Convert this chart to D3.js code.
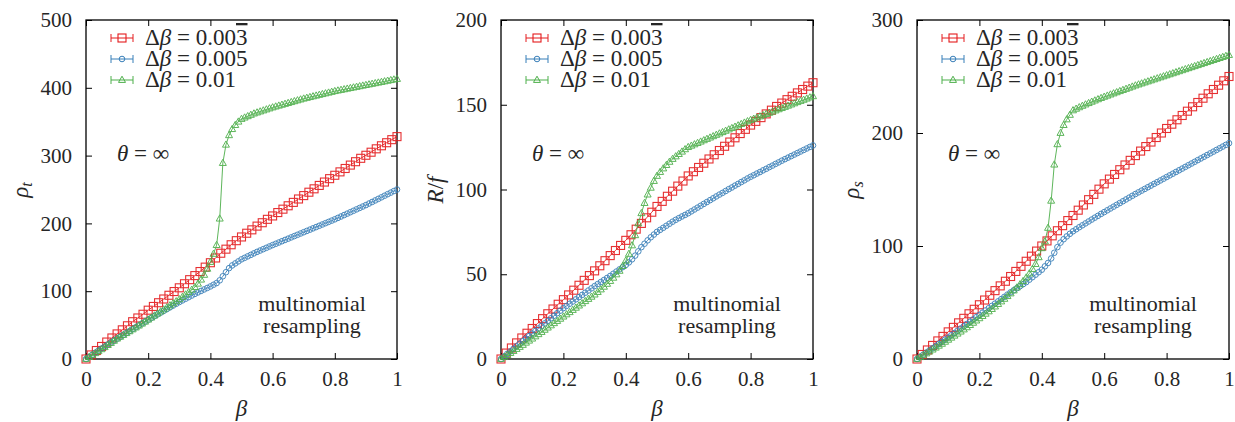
<!DOCTYPE html>
<html><head><meta charset="utf-8">
<script src="https://cdn.jsdelivr.net/npm/d3@7"></script>
<style>
svg text, svg tspan { font-family: "Liberation Serif" !important; }
</style>
</head>
<body style="margin:0">
<svg id="chart" width="1235" height="422" font-family="Liberation Serif"></svg>
<script>
// ---------- data ----------
const seriesNames = ["Δβ = 0.003", "Δβ = 0.005", "Δβ = 0.01"];
const xTicks = [0, 0.2, 0.4, 0.6, 0.8, 1];
const xTickLabels = ["0", "0.2", "0.4", "0.6", "0.8", "1"];
const yTicksRho_t = [0, 100, 200, 300, 400, 500];
const yTicksRf = [0, 50, 100, 150, 200];
const yTicksRho_s = [0, 100, 200, 300];

// beta grid for red squares (every 1/60)
const betaRed = [0,0.0167,0.0333,0.05,0.0667,0.0833,0.1,0.1167,0.1333,0.15,0.1667,0.1833,0.2,0.2167,0.2333,0.25,0.2667,0.2833,0.3,0.3167,0.3333,0.35,0.3667,0.3833,0.4,0.4167,0.4333,0.45,0.4667,0.4833,0.5,0.5167,0.5333,0.55,0.5667,0.5833,0.6,0.6167,0.6333,0.65,0.6667,0.6833,0.7,0.7167,0.7333,0.75,0.7667,0.7833,0.8,0.8167,0.8333,0.85,0.8667,0.8833,0.9,0.9167,0.9333,0.95,0.9667,0.9833,1];
// beta grid for blue / green markers (every 0.01)
const betaFine = [0,0.01,0.02,0.03,0.04,0.05,0.06,0.07,0.08,0.09,0.1,0.11,0.12,0.13,0.14,0.15,0.16,0.17,0.18,0.19,0.2,0.21,0.22,0.23,0.24,0.25,0.26,0.27,0.28,0.29,0.3,0.31,0.32,0.33,0.34,0.35,0.36,0.37,0.38,0.39,0.4,0.41,0.42,0.43,0.44,0.45,0.46,0.47,0.48,0.49,0.5,0.51,0.52,0.53,0.54,0.55,0.56,0.57,0.58,0.59,0.6,0.61,0.62,0.63,0.64,0.65,0.66,0.67,0.68,0.69,0.7,0.71,0.72,0.73,0.74,0.75,0.76,0.77,0.78,0.79,0.8,0.81,0.82,0.83,0.84,0.85,0.86,0.87,0.88,0.89,0.9,0.91,0.92,0.93,0.94,0.95,0.96,0.97,0.98,0.99,1];

// panel 1: rho_t
const rhoT_red = [0,6,12.5,18.5,25,31,37,43,49,55,60.5,66,72,77.5,83,88.5,94,99.5,105,111,117,123,129,135.5,142,149,156,162,168.5,174.5,180,185.5,190.5,196,201,206,211,216,221,226,231,236,241,246,251,256,261,266,271,276,281,286,291,296,300.5,305,310,314.5,319,323.5,328];
const rhoT_blue = [0,3,6.2,9.3,12.4,15.5,18.4,21.3,24.2,27.1,30,32.8,35.6,38.4,41.2,44,46.8,49.6,52.4,55.2,58,60.6,63.2,65.8,68.4,71,73.6,76.2,78.8,81.4,84,86.4,88.8,91.2,93.6,96,98.2,100.4,102.6,104.8,107,109.5,112,116,122,128,134,138,141,144,147,149.2,151.4,153.6,155.8,158,160,162,164,166,168,169.9,171.8,173.7,175.6,177.5,179.4,181.3,183.2,185.1,187,188.9,190.8,192.7,194.6,196.5,198.4,200.3,202.2,204.1,206,208.1,210.2,212.3,214.4,216.5,218.6,220.7,222.8,224.9,227,229.3,231.6,233.9,236.2,238.5,240.8,243.1,245.4,247.7,250];
const rhoT_green = [0,2.8,5.6,8.5,11.4,14.3,17.4,20.5,23.6,26.8,30,32.7,35.4,38.1,40.8,43.6,46.4,49.2,52.1,55,58,61,64,67,70,73,76,79,82,85,88,91.5,95,98.5,102,106,111,117,124,133,143,155,168,207,289,316,330,339,345,350,354,356,358,360,362,363.5,365,366.5,368,369.5,371,372.3,373.6,374.9,376.2,377.5,378.8,380.1,381.4,382.7,384,385.1,386.2,387.3,388.4,389.5,390.6,391.7,392.8,393.9,395,395.9,396.8,397.7,398.6,399.5,400.4,401.3,402.2,403.1,404,404.9,405.8,406.7,407.6,408.5,409.4,410.3,411.2,412.1,413];

// panel 2: R/f
const rf_red = [0,3.5,6.5,9.5,12.4,15.2,18,20.9,23.8,26.7,29.5,32.3,35,37.8,40.6,43.5,46.4,49.2,52,55,58,61,64,67,70,73.3,76.6,80,83.3,86.6,90,93,96,99,102,105,108,110.5,113,115.5,118,120.5,123,125.5,128,130.5,133,135.5,138,140.2,142.4,144.6,146.8,149,151,153,155,157,159,161,163];
const rf_blue = [0,1.5,3,4.5,6,7.5,9,10.5,12,13.5,15,16.5,18,19.5,21,22.5,24,25.5,27,28.5,30,31.3,32.6,33.9,35.2,36.5,37.8,39.1,40.4,41.7,43,44.2,45.4,46.6,47.8,49,50.3,51.6,52.9,54.2,55.5,57,58.8,61,63.5,66,68,70,71.8,73.4,75,76.2,77.4,78.6,79.8,81,82.1,83.1,84.1,85,86,87.1,88.2,89.3,90.4,91.5,92.6,93.7,94.8,95.9,97,98,99.1,100.2,101.2,102.3,103.3,104.4,105.4,106.5,107.5,108.4,109.4,110.3,111.3,112.2,113.2,114.1,115.1,116,117,117.9,118.8,119.7,120.6,121.5,122.4,123.3,124.2,125.1,126];
const rf_green = [0,1.1,2.3,3.5,4.7,5.9,7.1,8.3,9.6,10.8,12,13.3,14.6,15.9,17.2,18.5,19.8,21.1,22.4,23.7,25,26.3,27.6,28.9,30.2,31.5,32.8,34.1,35.4,36.7,38,39.5,41,42.6,44.3,46,47.9,49.9,52,54.8,58,62,67,73,80,86,92,97,101,105,108,110.3,112.4,114.4,116.3,118,119.5,120.9,122.3,123.7,125,125.8,126.6,127.4,128.2,129,129.8,130.6,131.4,132.2,133,133.8,134.6,135.4,136.2,137,137.8,138.6,139.4,140.2,141,141.7,142.4,143.1,143.8,144.5,145.2,145.9,146.6,147.3,148,148.7,149.4,150.1,150.8,151.5,152.2,152.9,153.6,154.3,155];

// panel 3: rho_s
const rhoS_red = [0,4,8,12,16,20,24,28,32,36,40,44,48,52.2,56.4,60.5,64.7,68.8,73,77.5,82,86.5,91,95.5,100,104.5,109,113.5,118,122.5,127,131.7,136.3,141,145.7,150.3,155,159.2,163.3,167.5,171.7,175.8,180,184,188,192,196,200,204,207.8,211.7,215.5,219.3,223.2,227,230.8,234.7,238.5,242.3,246.2,250];
const rhoS_blue = [0,1.9,3.8,5.7,7.6,9.5,11.4,13.3,15.2,17.1,19,21,23,25,27,29,31,33,35,37,39,41,43,45,47,49,51,53,55,57,59,60.8,62.6,64.4,66.2,68,70.2,72.4,74.6,76.8,79,82,85,89,94,99,103,106,108.5,110.8,113,114.8,116.6,118.3,120,121.7,123.4,125.1,126.7,128.4,130,131.6,133.2,134.8,136.4,138,139.6,141.2,142.8,144.4,146,147.5,149,150.5,152,153.5,155,156.5,158,159.5,161,162.5,164,165.5,167,168.5,170,171.5,173,174.5,176,177.5,179,180.5,182,183.5,185,186.5,188,189.5,191];
const rhoS_green = [0,1.6,3.2,4.9,6.6,8.3,10,11.7,13.4,15.2,17,18.8,20.6,22.4,24.2,26.1,28,30,32,34,36,38,40,42.1,44.2,46.4,48.6,50.9,53.2,55.6,58,60.6,63.2,66,68.9,72,75.6,79.6,84,90,98,104,116,140,172,190,200,207,212,216,220,221.4,222.7,224,225.2,226.4,227.6,228.7,229.8,230.9,232,233,234,235,236,237,238,239,240,241,242,242.9,243.8,244.7,245.6,246.5,247.4,248.3,249.2,250.1,251,251.9,252.8,253.7,254.6,255.5,256.4,257.3,258.2,259.1,260,260.9,261.8,262.7,263.6,264.5,265.4,266.3,267.2,268.1,269];

// ---------- drawing ----------
const FONT = "Liberation Serif";
const TXT = "#262626";
const colors = ["#e41a1c", "#377eb8", "#4daf4a"];
const svg = d3.select("#chart");

const panels = [
  {left: 86, right: 397, yMax: 500, yTicks: yTicksRho_t, ylab: "rho_t",
   data: [rhoT_red, rhoT_blue, rhoT_green]},
  {left: 501, right: 813, yMax: 200, yTicks: yTicksRf, ylab: "Rf",
   data: [rf_red, rf_blue, rf_green]},
  {left: 917, right: 1229, yMax: 300, yTicks: yTicksRho_s, ylab: "rho_s",
   data: [rhoS_red, rhoS_blue, rhoS_green]}
];
const plotTop = 20, plotBottom = 359;

function styleText(sel, size) {
  return sel.attr("font-size", size).attr("fill", TXT).attr("font-family", FONT);
}

function marker(g, type, cx, cy, color) {
  if (type === 0) {
    g.append("rect").attr("x", cx - 4).attr("y", cy - 4).attr("width", 8).attr("height", 8)
      .attr("fill", "none").attr("stroke", color).attr("stroke-width", 1.1);
  } else if (type === 1) {
    g.append("circle").attr("cx", cx).attr("cy", cy).attr("r", 2.8)
      .attr("fill", "none").attr("stroke", color).attr("stroke-width", 1);
  } else {
    g.append("path").attr("d", `M${cx},${cy-3.8}L${cx+3.5},${cy+2.4}L${cx-3.5},${cy+2.4}Z`)
      .attr("fill", "none").attr("stroke", color).attr("stroke-width", 1);
  }
}

panels.forEach((p) => {
  const x = d3.scaleLinear().domain([0, 1]).range([p.left, p.right]);
  const y = d3.scaleLinear().domain([0, p.yMax]).range([plotBottom, plotTop]);
  const g = svg.append("g");

  const fmt = (d) => xTickLabels[xTicks.indexOf(d)];
  const axB = g.append("g").attr("transform", `translate(0,${plotBottom})`)
    .call(d3.axisBottom(x).tickValues(xTicks).tickFormat(fmt).tickSizeInner(-6).tickSizeOuter(0).tickPadding(12));
  const axT = g.append("g").attr("transform", `translate(0,${plotTop})`)
    .call(d3.axisTop(x).tickValues(xTicks).tickFormat("").tickSizeInner(-6).tickSizeOuter(0));
  const axL = g.append("g").attr("transform", `translate(${p.left},0)`)
    .call(d3.axisLeft(y).tickValues(p.yTicks).tickSizeInner(-6).tickSizeOuter(0).tickPadding(14));
  const axR = g.append("g").attr("transform", `translate(${p.right},0)`)
    .call(d3.axisRight(y).tickValues(p.yTicks).tickFormat("").tickSizeInner(-6).tickSizeOuter(0));
  [axB, axT, axL, axR].forEach(a => {
    a.attr("font-family", FONT).attr("font-size", 21);
    a.select(".domain").remove();
    a.selectAll("line").attr("stroke", "#000").attr("stroke-width", 1);
    styleText(a.selectAll("text"), 21);
  });

  g.append("rect").attr("x", p.left).attr("y", plotTop).attr("width", p.right - p.left)
    .attr("height", plotBottom - plotTop).attr("fill", "none").attr("stroke", "#000").attr("stroke-width", 1.3);

  const clip = "clip" + p.left;
  svg.append("clipPath").attr("id", clip).append("rect")
    .attr("x", p.left - 6).attr("y", plotTop - 6).attr("width", p.right - p.left + 12).attr("height", plotBottom - plotTop + 12);
  const plot = g.append("g").attr("clip-path", `url(#${clip})`);
  p.data.forEach((vals, si) => {
    const bx = si === 0 ? betaRed : betaFine;
    const pts = vals.map((v, i) => [x(bx[i]), y(v)]);
    const sg = plot.append("g").attr("opacity", 0.9);
    sg.append("path").attr("d", d3.line()(pts)).attr("fill", "none")
      .attr("stroke", colors[si]).attr("stroke-width", 1);
    pts.forEach(pt => marker(sg, si, pt[0], pt[1], colors[si]));
  });

  const lx = p.left + 25, lx2 = p.left + 47, tx = p.left + 59;
  const rowsY = [38, 59, 80];
  seriesNames.forEach((name, si) => {
    const cy = rowsY[si];
    const lg = g.append("g");
    lg.append("line").attr("x1", lx).attr("x2", lx2).attr("y1", cy).attr("y2", cy)
      .attr("stroke", colors[si]).attr("stroke-width", 1);
    [lx, lx2].forEach(ex => lg.append("line").attr("x1", ex).attr("x2", ex)
      .attr("y1", cy - 4).attr("y2", cy + 4).attr("stroke", colors[si]).attr("stroke-width", 1));
    marker(lg, si, (lx + lx2) / 2, cy, colors[si]);
    const t = styleText(g.append("text").attr("x", tx).attr("y", cy + 7), 23);
    const parts = name.split("β");
    t.append("tspan").text(parts[0]);
    t.append("tspan").attr("font-style", "italic").text("β");
    if (si === 0) {
      const rest = parts[1];
      t.append("tspan").text(rest.slice(0, -1));
      t.append("tspan").style("text-decoration", "overline").text(rest.slice(-1));
    } else {
      t.append("tspan").text(parts[1]);
    }
  });

  const ann = styleText(g.append("text").attr("x", p.left + 31).attr("y", 161), 23);
  ann.append("tspan").attr("font-style", "italic").text("θ");
  ann.append("tspan").text(" = ∞");
  styleText(g.append("text").attr("x", p.left + 226).attr("y", 311).attr("text-anchor", "middle"), 22)
    .text("multinomial");
  styleText(g.append("text").attr("x", p.left + 226).attr("y", 333).attr("text-anchor", "middle"), 22)
    .text("resampling");

  styleText(g.append("text").attr("x", (p.left + p.right) / 2).attr("y", 416).attr("text-anchor", "middle"), 23)
    .attr("font-style", "italic").text("β");

  const yl = styleText(g.append("text").attr("transform", `translate(${p.left - 58},190) rotate(-90)`)
    .attr("text-anchor", "middle"), 23);
  if (p.ylab === "Rf") {
    yl.append("tspan").attr("font-style", "italic").text("R");
    yl.append("tspan").text("/");
    yl.append("tspan").attr("font-style", "italic").text("f");
  } else {
    yl.append("tspan").attr("font-style", "italic").text("ρ");
    yl.append("tspan").attr("font-style", "italic").attr("font-size", 16).attr("dy", 4)
      .text(p.ylab === "rho_t" ? "t" : "s");
  }
});
</script>
</body></html>
